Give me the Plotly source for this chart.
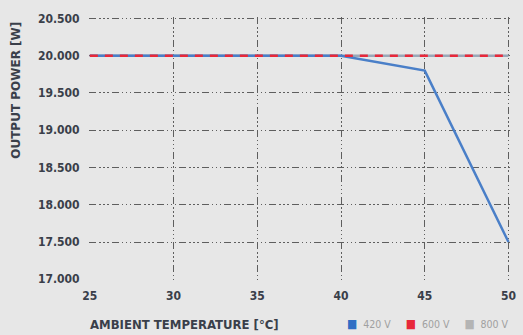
import plotly.graph_objects as go

temps = [25, 30, 35, 40, 45, 50]
p420 = [20000, 20000, 20000, 20000, 19800, 17500]
p600 = [20000, 20000, 20000, 20000, 20000, 20000]
p800 = [20000, 20000, 20000, 20000, 20000, 20000]
y_ticks = [17000, 17500, 18000, 18500, 19000, 19500, 20000, 20500]
y_labels = ["17.000", "17.500", "18.000", "18.500", "19.000", "19.500", "20.000", "20.500"]
series_names = ["420 V", "600 V", "800 V"]
colors = ["#2f6fc4", "#e8283a", "#b4b4b4"]

bg = "#e7e7e7"
txt = "#3a3f4a"
font_fam = "DejaVu Sans Condensed"
fig = go.Figure()

fig.add_trace(go.Scatter(x=temps, y=p800, mode="lines", line=dict(color="#9aa8b8", width=2.5), showlegend=False))
fig.add_trace(go.Scatter(x=temps, y=p420, mode="lines", line=dict(color="#4a7fc8", width=2.5), showlegend=False))
fig.add_trace(go.Scatter(x=temps, y=p600, mode="lines", line=dict(color=colors[1], width=2.5, dash="8px,7px"), showlegend=False))

grid = dict(showgrid=True, gridcolor="#5e5e5e", gridwidth=1.3,
            griddash="7px,3px,1.5px,2.5px,1.5px,2.5px,1.5px,3px",
            zeroline=False, showline=False, ticks="outside", tickcolor="rgba(0,0,0,0)",
            automargin=False)

fig.update_xaxes(range=[24.95, 50.15], tickvals=temps, ticktext=["<b>%d</b>" % t for t in temps],
                 ticklen=5, **grid,
                 tickfont=dict(family=font_fam, size=12, color=txt))
fig.update_yaxes(range=[16990, 20520], tickvals=y_ticks, ticktext=["<b>%s</b>" % t for t in y_labels],
                 ticklen=6, **grid,
                 tickfont=dict(family=font_fam, size=12, color=txt))

fig.add_annotation(text="<b>AMBIENT TEMPERATURE [°C]</b>", xref="paper", yref="paper", x=-0.003, y=-0.168,
                   xanchor="left", yanchor="middle", showarrow=False,
                   font=dict(family=font_fam, size=13, color=txt))
fig.add_annotation(text="<b>OUTPUT POWER [W]</b>", xref="paper", yref="paper", x=-0.175, y=0.72,
                   xanchor="center", yanchor="middle", showarrow=False, textangle=-90,
                   font=dict(family="DejaVu Sans", size=12, color=txt))

legend_text = "&nbsp;&nbsp;&nbsp;&nbsp;&nbsp;".join(
    '<span style="color:%s;font-size:12px">■</span>&nbsp;&nbsp;%s' % (c, n) for n, c in zip(series_names, colors))
fig.add_annotation(text=legend_text, xref="paper", yref="paper", x=1.0, y=-0.168,
                   xanchor="right", yanchor="middle", showarrow=False,
                   font=dict(family=font_fam, size=10.5, color="#a0a0a0"))

fig.update_layout(
    width=523, height=335,
    margin=dict(l=89, r=12, t=17, b=55),
    paper_bgcolor=bg, plot_bgcolor=bg,
    showlegend=False,
)

fig.write_html("out.html", config={"displayModeBar": False},
               post_script="document.body.style.margin='0';document.body.style.background='%s';" % bg)
